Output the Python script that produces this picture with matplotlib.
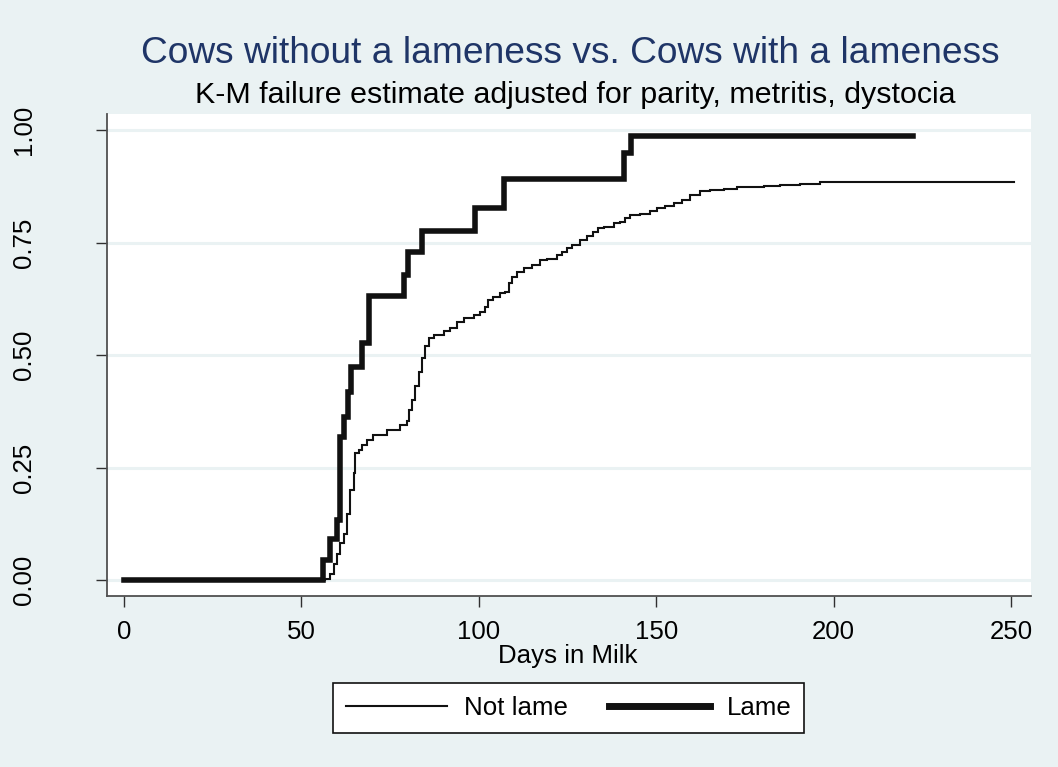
import matplotlib
matplotlib.use("Agg")
import matplotlib.pyplot as plt
from matplotlib.lines import Line2D

plt.rcParams['font.family'] = ['Liberation Sans', 'DejaVu Sans']

# Kaplan-Meier failure estimates (adjusted for parity, metritis, dystocia)
days_not_lame = [0, 56.7, 58.1, 59.1, 60.0, 60.9, 61.9, 62.8, 63.8, 64.7, 65.2, 66.1,
                 67.1, 68.5, 70.3, 74.1, 77.9, 79.8, 80.2, 81.2, 82.1, 83.0, 84.0,
                 84.9, 85.9, 87.3, 90.1, 91.9, 93.9, 95.7, 98.6, 100.4, 101.8,
                 102.7, 104.1, 106.0, 107.4, 108.4, 109.3, 110.7, 112.6, 114.9,
                 117.3, 119.2, 122.0, 123.4, 124.8, 126.2, 128.6, 130.5, 132.3,
                 133.7, 135.2, 138.0, 139.8, 141.3, 142.7, 145.5, 148.3, 150.2,
                 152.5, 154.9, 157.2, 159.6, 162.4, 165.2, 169.0, 172.7, 175.6,
                 180.3, 185.0, 190.6, 196.2, 250.9]
fail_not_lame = [0, 0.004, 0.015, 0.037, 0.059, 0.082, 0.104, 0.148, 0.200, 0.238,
                 0.282, 0.290, 0.301, 0.312, 0.323, 0.334, 0.345, 0.353, 0.379,
                 0.401, 0.431, 0.464, 0.494, 0.520, 0.538, 0.546, 0.553, 0.560,
                 0.575, 0.582, 0.590, 0.597, 0.608, 0.623, 0.630, 0.638, 0.641,
                 0.660, 0.675, 0.686, 0.693, 0.701, 0.712, 0.715, 0.723, 0.730,
                 0.738, 0.745, 0.756, 0.764, 0.775, 0.782, 0.786, 0.793, 0.797,
                 0.804, 0.812, 0.815, 0.821, 0.827, 0.832, 0.838, 0.844, 0.856,
                 0.864, 0.867, 0.870, 0.873, 0.875, 0.876, 0.878, 0.880, 0.884,
                 0.884]

days_lame = [0, 56, 58, 60, 61, 62, 63, 64, 67, 69, 79, 80, 84, 99, 107, 141, 143, 222.4]
fail_lame = [0, 0.046, 0.091, 0.135, 0.319, 0.364, 0.419, 0.475, 0.527, 0.631,
             0.679, 0.729, 0.777, 0.828, 0.892, 0.950, 0.988, 0.988]

x_ticks = [0, 50, 100, 150, 200, 250]
y_ticks = [0.00, 0.25, 0.50, 0.75, 1.00]
y_tick_labels = ["0.00", "0.25", "0.50", "0.75", "1.00"]

bg = "#EAF2F3"
navy = "#1F3567"
fs = 18.6

fig = plt.figure(figsize=(10.58, 7.67), dpi=100, facecolor=bg)
ax = fig.add_axes([0.1008, 0.2229, 0.8737, 0.6285])
ax.set_facecolor("white")

ax.step(days_not_lame, fail_not_lame, where="post", color="#111111", lw=1.5,
        solid_joinstyle="miter", zorder=3)
ax.step(days_lame, fail_lame, where="post", color="#111111", lw=4.0,
        solid_joinstyle="miter", zorder=4)

ax.set_xlim(-4.88, 255.6)
ax.set_ylim(-0.0349, 1.0362)

ax.set_xticks(x_ticks)
ax.set_yticks(y_ticks)
ax.set_yticklabels(y_tick_labels, rotation=90, va="center")
ax.yaxis.grid(True, color=bg, lw=2.2, zorder=0)
ax.set_axisbelow(True)

for side in ("top", "right"):
    ax.spines[side].set_visible(False)
for side in ("left", "bottom"):
    ax.spines[side].set_color("#505050")
    ax.spines[side].set_linewidth(1.3)

ax.tick_params(axis="x", direction="out", length=8, width=1, color="#303030",
               labelsize=fs, pad=9)
ax.tick_params(axis="y", direction="out", length=8, width=1, color="#303030",
               labelsize=fs, pad=43)

fig.text(0.537, 1 - 663.3 / 767, "Days in Milk", ha="center", va="baseline",
         fontsize=fs)

fig.text(0.5392, 1 - 63.3 / 767, "Cows without a lameness vs. Cows with a lameness",
         ha="center", va="baseline", fontsize=26.7, color=navy)
fig.text(0.544, 1 - 103 / 767, "K-M failure estimate adjusted for parity, metritis, dystocia",
         ha="center", va="baseline", fontsize=21.9)

handles = [Line2D([], [], color="#111111", lw=1.5),
           Line2D([], [], color="#111111", lw=5.0)]
leg = fig.legend(handles, ["Not lame", "Lame"], loc="center",
                 bbox_to_anchor=(568.7 / 1058, 1 - 707.8 / 767), ncol=2,
                 fontsize=fs, frameon=True, fancybox=False, handlelength=3.9,
                 handletextpad=0.65, columnspacing=1.6, borderpad=0.5,
                 borderaxespad=0)
leg.get_frame().set_edgecolor("#111111")
leg.get_frame().set_linewidth(1.2)
leg.get_frame().set_facecolor("white")
leg.get_frame().set_alpha(1)

fig.savefig("out.png", dpi=100, facecolor=bg)
